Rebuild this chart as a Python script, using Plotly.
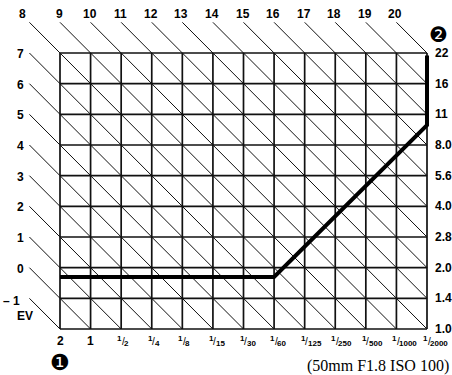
import plotly.graph_objects as go
import math

# ---------------- data ----------------
shutter_num = ["", "", "1", "1", "1", "1", "1", "1", "1", "1", "1", "1", "1"]
shutter_den = ["2", "1", "2", "4", "8", "15", "30", "60", "125", "250", "500", "1000", "2000"]
aperture_labels = ["1.0", "1.4", "2.0", "2.8", "4.0", "5.6", "8.0", "11", "16", "22"]
ev_values = list(range(-1, 21))
ev_offset = -1  # EV at (2 s, f/1.0)
program_shutter_idx = [0, 7, 12, 12]
program_fnumber = [1.8, 1.8, 10.0, 22.0]
caption = "(50mm F1.8 ISO 100)"

# ---------------- layout geometry ----------------
W, H = 452, 375
GL, GR, GT, GB = 60, 427, 53, 329        # grid pixel box
ML, MR, MT, MB = 4, 2, 4, 4              # plot-area margins
nx = len(shutter_den) - 1
ny = len(aperture_labels) - 1
ux = (GR - GL) / nx
uy = (GB - GT) / ny
SANS = "Liberation Sans"
LAB = dict(family=SANS, size=12, color="black", weight="bold")


def px2x(p):
    return (p - GL) / ux


def py2y(p):
    return (GB - p) / uy


xr = [px2x(ML), px2x(W - MR)]
yr = [py2y(H - MB), py2y(MT)]

fig = go.Figure()

# grid
gx, gy = [], []
for i in range(nx + 1):
    gx += [i, i, None]
    gy += [0, ny, None]
for j in range(ny + 1):
    gx += [0, nx, None]
    gy += [j, j, None]
fig.add_trace(go.Scatter(x=gx, y=gy, mode="lines",
                         line=dict(color="#111", width=1.7), hoverinfo="skip"))

# EV diagonals
dx, dy = [], []
annotations = []
for k in ev_values:
    s = k - ev_offset  # i + j = s
    start = (0, s) if s <= ny else (s - ny, ny)
    end = (s, 0) if s <= nx else (nx, s - nx)
    ext = (start[0] - 1, start[1] + 1)
    dx += [ext[0], end[0], None]
    dy += [ext[1], end[1], None]
    if ext[1] > ny:  # top labels
        annotations.append(dict(x=ext[0], y=ext[1], text=str(k), showarrow=False,
                                xanchor="center", yanchor="middle",
                                xshift=-7 if ext[0] < 0 else -1, yshift=8, font=LAB))
    else:  # left labels
        txt = "– 1" if k < 0 else str(k)
        annotations.append(dict(x=ext[0], y=ext[1], text=txt, showarrow=False,
                                xanchor="right", yanchor="middle",
                                xshift=-3 if k >= 0 else -7, yshift=-1 if k >= 0 else -3,
                                font=LAB))
fig.add_trace(go.Scatter(x=dx, y=dy, mode="lines",
                         line=dict(color="#111", width=1), hoverinfo="skip"))

# program line
py = [2 * math.log2(n) for n in program_fnumber]
fig.add_trace(go.Scatter(x=program_shutter_idx, y=py, mode="lines",
                         line=dict(color="black", width=4), hoverinfo="skip"))

# bottom labels (fractions built from numerator / denominator)
SMALL = dict(family=SANS, size=8, color="black", weight="bold")
TIGHT = dict(borderpad=0, borderwidth=0)
for i, (n, d) in enumerate(zip(shutter_num, shutter_den)):
    if not n:
        annotations.append(dict(x=i, y=0, text=d, showarrow=False, xanchor="center",
                                yanchor="middle", yshift=-12, font=LAB))
        continue
    annotations.append(dict(x=i, y=0, text=n, showarrow=False, xanchor="right",
                            yanchor="middle", xshift=1, yshift=-9, font=SMALL, **TIGHT))
    annotations.append(dict(x=i, y=0, text="/", showarrow=False, xanchor="center",
                            yanchor="middle", xshift=2, yshift=-12,
                            font=dict(family=SANS, size=10, color="black"), **TIGHT))
    annotations.append(dict(x=i, y=0, text=d, showarrow=False, xanchor="left",
                            yanchor="middle", xshift=3, yshift=-14, font=SMALL, **TIGHT))
# right labels
for j, t in enumerate(aperture_labels):
    annotations.append(dict(x=nx, y=j, text=t, showarrow=False, xanchor="left",
                            yanchor="middle", xshift=6, font=LAB))
# EV label
annotations.append(dict(x=px2x(25), y=py2y(316), text="EV", showarrow=False,
                        xanchor="center", yanchor="middle", font=LAB))
# circled numbers
annotations.append(dict(x=px2x(60), y=py2y(362), text="❶", showarrow=False,
                        font=dict(size=22, family="DejaVu Sans", color="black")))
annotations.append(dict(x=px2x(438), y=py2y(35), text="❷", showarrow=False,
                        font=dict(size=21, family="DejaVu Sans", color="black")))
# caption
annotations.append(dict(x=px2x(449), y=py2y(366), text=caption, showarrow=False,
                        xanchor="right", yanchor="middle", **TIGHT,
                        font=dict(size=16, family="Liberation Serif", color="black")))

fig.update_layout(
    width=W, height=H, autosize=False,
    margin=dict(l=ML, r=MR, t=MT, b=MB, pad=0),
    paper_bgcolor="white", plot_bgcolor="white",
    showlegend=False,
    xaxis=dict(range=xr, visible=False, fixedrange=True),
    yaxis=dict(range=yr, visible=False, fixedrange=True),
    font=dict(family=SANS, size=12, color="black"),
    annotations=annotations,
)
fig.write_html("out.html", config={"displayModeBar": False},
               post_script="document.body.style.margin='0';")
